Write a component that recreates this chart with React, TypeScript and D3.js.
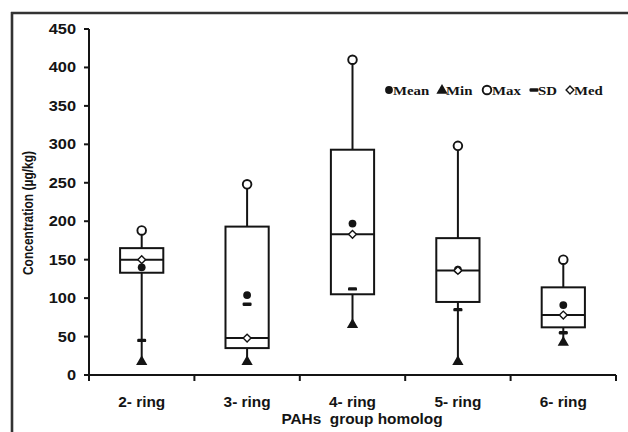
import React from "react";
import * as d3 from "d3";

const categories = ["2- ring", "3- ring", "4- ring", "5- ring", "6- ring"];
const maxValues = [188, 248, 410, 298, 150];
const q3Values = [165, 193, 293, 178, 114];
const medianValues = [150, 48, 183, 136, 78];
const q1Values = [133, 35, 105, 95, 62];
const minValues = [18, 18, 66, 18, 43];
const meanValues = [140, 104, 197, 137, 91];
const sdValues = [45, 92, 112, 85, 55];
const yTicks = [0, 50, 100, 150, 200, 250, 300, 350, 400, 450];
const legendItems = ["Mean", "Min", "Max", "SD", "Med"];

const W = 628;
const H = 432;
const X0 = 89;
const X1 = 616;
const Y0 = 375;
const Y1 = 29;
const INK = "#141414";

export default function App() {
  const x = d3.scaleBand<string>().domain(categories).range([X0, X1]).padding(0);
  const y = d3.scaleLinear().domain([0, 450]).range([Y0, Y1]);
  const bw = x.bandwidth();
  const boxW = bw * 0.41;
  const cx = (c: string) => (x(c) as number) + bw / 2;
  const tri = d3.symbol().type(d3.symbolTriangle).size(55)() as string;
  const sans = "'Liberation Sans', Arial, sans-serif";
  const serif = "'Liberation Serif', 'Times New Roman', serif";

  const boundaries = [...categories.map((c) => x(c) as number), X1];

  // legend layout
  const legendY = 90;
  const legendMarkerX = [389, 442, 487, 534, 570];
  const legendTextX = [393, 446, 492, 538, 574];

  const renderMarker = (kind: string, px: number, py: number, key: string) => {
    switch (kind) {
      case "Mean":
        return <circle key={key} cx={px} cy={py} r={3.9} fill={INK} />;
      case "Min":
        return <path key={key} d={tri} transform={`translate(${px},${py + 0.5})`} fill={INK} />;
      case "Max":
        return <circle key={key} cx={px} cy={py} r={4.3} fill="#fff" stroke={INK} strokeWidth={1.9} />;
      case "SD":
        return <rect key={key} x={px - 4.5} y={py - 1.7} width={9} height={3.4} rx={1.2} fill={INK} />;
      default:
        return (
          <path
            key={key}
            d={`M${px},${py - 3.9}L${px + 3.9},${py}L${px},${py + 3.9}L${px - 3.9},${py}Z`}
            fill="#fff"
            stroke={INK}
            strokeWidth={1.4}
          />
        );
    }
  };

  return (
    <svg
      width={W}
      height={H}
      style={{ position: "absolute", left: 0, top: 0, background: "#fff" }}
    >
      <rect x={0} y={0} width={W} height={H} fill="#fff" />
      {/* outer frame (top and left) */}
      <line x1={11} x2={W} y1={13} y2={13} stroke="#333" strokeWidth={2.6} />
      <line x1={12} x2={12} y1={12} y2={H} stroke="#333" strokeWidth={2.6} />

      {/* y axis */}
      <line x1={X0} x2={X0} y1={Y1} y2={Y0} stroke={INK} strokeWidth={2} />
      {yTicks.map((t) => (
        <g key={t}>
          <line x1={X0 - 5} x2={X0} y1={y(t)} y2={y(t)} stroke={INK} strokeWidth={2} />
          <text
            transform={`translate(76,${y(t)}) scale(1.17,1)`}
            textAnchor="end"
            dominantBaseline="central"
            fontFamily={sans}
            fontWeight="bold"
            fontSize={14}
            fill={INK}
          >
            {t}
          </text>
        </g>
      ))}

      {/* x axis */}
      <line x1={X0 - 1} x2={X1} y1={Y0} y2={Y0} stroke={INK} strokeWidth={2} />
      {boundaries.map((b, i) => (
        <line key={i} x1={b} x2={b} y1={Y0} y2={Y0 + 6} stroke={INK} strokeWidth={2} />
      ))}
      {categories.map((c) => (
        <text
          key={c}
          transform={`translate(${cx(c)},406.5) scale(1.1,1)`}
          textAnchor="middle"
          fontFamily={sans}
          fontWeight="bold"
          fontSize={14}
          fill={INK}
        >
          {c}
        </text>
      ))}
      <text
        transform={`translate(362,424) scale(1.1,1)`}
        textAnchor="middle"
        fontFamily={sans}
        fontWeight="bold"
        fontSize={14}
        fill={INK}
        style={{ whiteSpace: "pre" }}
      >
        {"PAHs  group homolog"}
      </text>
      <text
        transform={`translate(28,213) scale(1.25,1) rotate(-90)`}
        textAnchor="middle"
        dominantBaseline="central"
        fontFamily={sans}
        fontWeight="bold"
        fontSize={12}
        fill={INK}
      >
        Concentration (µg/kg)
      </text>

      {/* boxes */}
      {categories.map((c, i) => {
        const px = cx(c);
        return (
          <g key={c}>
            <line x1={px} x2={px} y1={y(q3Values[i])} y2={y(maxValues[i])} stroke={INK} strokeWidth={2} />
            <line x1={px} x2={px} y1={y(q1Values[i])} y2={y(minValues[i])} stroke={INK} strokeWidth={2} />
            <rect
              x={px - boxW / 2}
              y={y(q3Values[i])}
              width={boxW}
              height={y(q1Values[i]) - y(q3Values[i])}
              fill="#fff"
              stroke={INK}
              strokeWidth={2}
            />
            <line
              x1={px - boxW / 2}
              x2={px + boxW / 2}
              y1={y(medianValues[i])}
              y2={y(medianValues[i])}
              stroke={INK}
              strokeWidth={2}
            />
            {renderMarker("SD", px, y(sdValues[i]), "sd")}
            {renderMarker("Min", px, y(minValues[i]), "min")}
            {renderMarker("Mean", px, y(meanValues[i]), "mean")}
            {renderMarker("Max", px, y(maxValues[i]), "max")}
            {renderMarker("Med", px, y(medianValues[i]), "med")}
          </g>
        );
      })}

      {/* legend */}
      {legendItems.map((name, i) => (
        <g key={name}>
          {renderMarker(name, legendMarkerX[i], legendY, "m")}
          <text
            transform={`translate(${legendTextX[i]},${legendY}) scale(1.1,1)`}
            dominantBaseline="central"
            fontFamily={serif}
            fontWeight="bold"
            fontSize={13.5}
            fill={INK}
          >
            {name}
          </text>
        </g>
      ))}
    </svg>
  );
}
